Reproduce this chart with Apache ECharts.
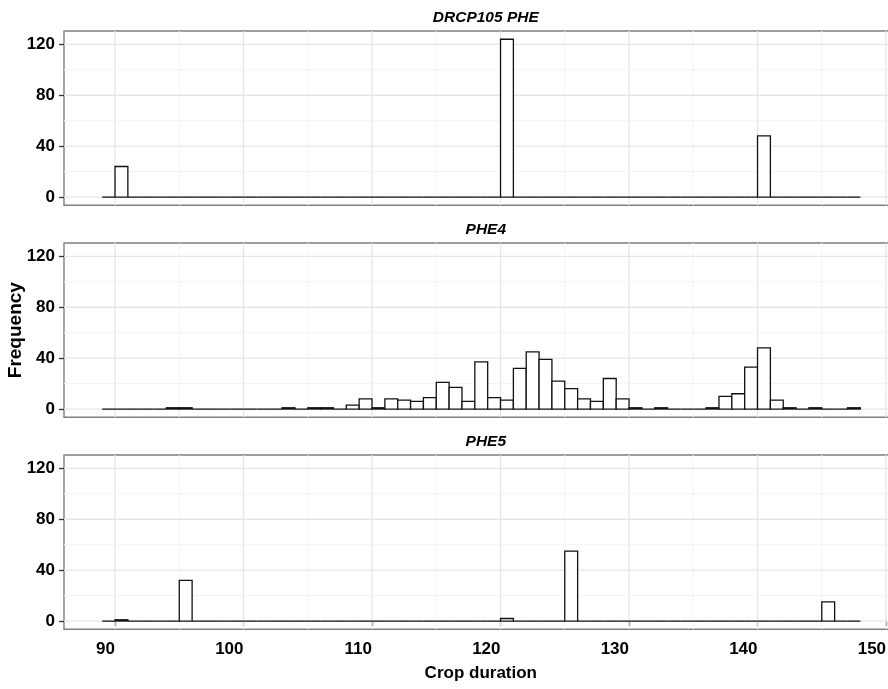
<!DOCTYPE html>
<html>
<head>
<meta charset="utf-8">
<script src="https://cdn.jsdelivr.net/npm/echarts@6/dist/echarts.min.js"></script>
<style>
html,body{margin:0;padding:0;background:#fff;}
#chart{width:888px;height:689px;}
</style>
</head>
<body>
<div id="chart"></div>
<script>
// ---------- data ----------
var panelTitles = ['DRCP105 PHE', 'PHE4', 'PHE5'];
// left edge of each 1-day bin
var binStarts = [89,90,91,92,93,94,95,96,97,98,99,100,101,102,103,104,105,106,107,108,
                 109,110,111,112,113,114,115,116,117,118,119,120,121,122,123,124,125,126,127,128,
                 129,130,131,132,133,134,135,136,137,138,139,140,141,142,143,144,145,146,147];
var countsDRCP105 = [0,24,0,0,0,0,0,0,0,0,0,0,0,0,0,0,0,0,0,0,
                     0,0,0,0,0,0,0,0,0,0,0,124,0,0,0,0,0,0,0,0,
                     0,0,0,0,0,0,0,0,0,0,0,48,0,0,0,0,0,0,0];
var countsPHE4 =    [0,0,0,0,0,1,1,0,0,0,0,0,0,0,1,0,1,1,0,3,
                     8,1,8,7,6,9,21,17,6,37,9,7,32,45,39,22,16,8,6,24,
                     8,1,0,1,0,0,0,1,10,12,33,48,7,1,0,1,0,0,1];
var countsPHE5 =    [0,1,0,0,0,0,32,0,0,0,0,0,0,0,0,0,0,0,0,0,
                     0,0,0,0,0,0,0,0,0,0,0,2,0,0,0,0,55,0,0,0,
                     0,0,0,0,0,0,0,0,0,0,0,0,0,0,0,0,15,0,0];
var allCounts = [countsDRCP105, countsPHE4, countsPHE5];
var xTickLabels = [90,100,110,120,130,140,150];
var xMinorBreaks = [95,105,115,125,135,145];
var yTickLabels = [0,40,80,120];
var yMinorBreaks = [20,60,100];
var xLabel = 'Crop duration';
var yLabel = 'Frequency';

// ---------- layout ----------
var X_MIN = 86.03, X_MAX = 150.9;
var Y_MIN = -6.5, Y_MAX = 130.5;
var gridTops = [31, 243, 455];
var GRID_H = 174.3;
var FONT = 'Liberation Sans, Arial, sans-serif';

var chart = echarts.init(document.getElementById('chart'), null, {renderer: 'canvas'});

var grids = [], xAxes = [], yAxes = [], series = [], titles = [];
var gridLineData = [];
xTickLabels.forEach(function (v) { gridLineData.push([v, 0, 'major']); });
xMinorBreaks.forEach(function (v) { gridLineData.push([v, 0, 'minor']); });
yTickLabels.forEach(function (v) { gridLineData.push([v, 1, 'major']); });
yMinorBreaks.forEach(function (v) { gridLineData.push([v, 1, 'minor']); });

for (var i = 0; i < 3; i++) {
  grids.push({
    left: 64, right: -9.6, top: gridTops[i], height: GRID_H,
    show: true, backgroundColor: '#fff', borderColor: '#7f7f7f', borderWidth: 1.4,
    containLabel: false, outerBoundsMode: 'none'
  });
  var bottom = (i === 2);
  xAxes.push({
    type: 'value', gridIndex: i, min: X_MIN, max: X_MAX,
    axisLine: {show: false},
    splitLine: {show: false},
    axisTick: bottom ? {show: true, customValues: xTickLabels, length: 5,
                         lineStyle: {color: '#333', width: 1.3}} : {show: false},
    axisLabel: bottom ? {show: true, customValues: xTickLabels, align: 'right',
                          margin: 12, fontSize: 17, fontWeight: 'bold', color: '#000',
                          fontFamily: FONT} : {show: false},
    name: bottom ? xLabel : '',
    nameLocation: 'middle', nameGap: 36, nameMoveOverlap: false,
    nameTextStyle: {fontSize: 17, fontWeight: 'bold', color: '#000', fontFamily: FONT}
  });
  yAxes.push({
    type: 'value', gridIndex: i, min: Y_MIN, max: Y_MAX,
    axisLine: {show: false},
    splitLine: {show: false},
    axisTick: {show: true, customValues: yTickLabels, length: 5,
               lineStyle: {color: '#333', width: 1.3}},
    axisLabel: {show: true, customValues: yTickLabels, margin: 9, fontSize: 17,
                fontWeight: 'bold', color: '#000', fontFamily: FONT},
    name: i === 1 ? yLabel : '',
    nameLocation: 'middle', nameGap: 39, nameMoveOverlap: false,
    nameTextStyle: {fontSize: 19, fontWeight: 'bold', color: '#000', fontFamily: FONT}
  });
  titles.push({
    text: panelTitles[i], left: 480.8, top: gridTops[i] - 26, textAlign: 'center',
    textStyle: {fontSize: 15.5, fontWeight: 'bold', fontStyle: 'italic', color: '#000',
                fontFamily: FONT}
  });
  // grid lines
  series.push({
    type: 'custom', xAxisIndex: i, yAxisIndex: i, z: 1, silent: true,
    data: gridLineData,
    renderItem: function (params, api) {
      var v = api.value(0), dir = api.value(1);
      var kind = gridLineData[params.dataIndex][2];
      var cs = params.coordSys;
      var shape;
      if (dir === 0) {
        var px = api.coord([v, 0])[0];
        shape = {x1: px, y1: cs.y, x2: px, y2: cs.y + cs.height};
      } else {
        var py = api.coord([X_MIN, v])[1];
        shape = {x1: cs.x, y1: py, x2: cs.x + cs.width, y2: py};
      }
      return {
        type: 'line', shape: shape,
        style: {stroke: kind === 'major' ? '#e6e6e6' : '#f4f4f4',
                lineWidth: kind === 'major' ? 1.3 : 1}
      };
    }
  });
  // histogram bars
  var data = binStarts.map(function (s, k) { return [s, allCounts[i][k]]; });
  series.push({
    type: 'custom', xAxisIndex: i, yAxisIndex: i, z: 3, silent: true,
    data: data,
    renderItem: function (params, api) {
      var s = api.value(0), c = api.value(1);
      var p0 = api.coord([s, 0]);
      var p1 = api.coord([s + 1, c]);
      return {
        type: 'rect',
        shape: {x: p0[0], y: p1[1], width: p1[0] - p0[0], height: p0[1] - p1[1]},
        style: {fill: '#fff', stroke: '#111', lineWidth: 1.3}
      };
    }
  });
}

chart.setOption({
  animation: false,
  backgroundColor: '#fff',
  title: titles,
  grid: grids,
  xAxis: xAxes,
  yAxis: yAxes,
  series: series
});
</script>
</body>
</html>
